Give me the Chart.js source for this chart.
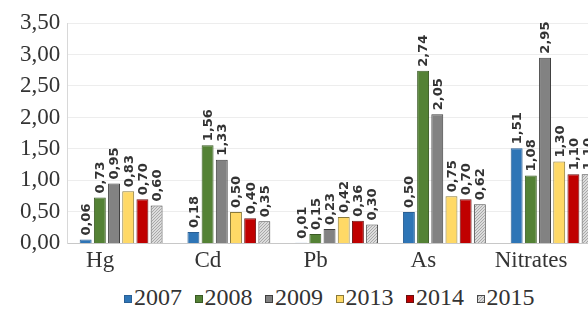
<!DOCTYPE html>
<html>
<head>
<meta charset="utf-8">
<script src="https://cdn.jsdelivr.net/npm/chart.js@4.4.1/dist/chart.umd.min.js"></script>
<style>
  html, body { margin: 0; padding: 0; background: #fff; overflow: hidden; width: 588px; height: 309px; }
  #wrap { position: absolute; left: 0; top: 0; width: 620px; height: 279px; }
  #legend { position: absolute; left: 124px; top: 285px; display: flex; align-items: center;
            font-family: "Liberation Serif", "Times New Roman", serif; font-size: 24px; line-height: 24px; color: #333; white-space: nowrap; }
  #legend .item { display: flex; align-items: center; margin-right: 12.5px; }
  #legend .box { width: 6px; height: 6px; border: 1px solid; margin-right: 2px; margin-top: 3px; }
</style>
</head>
<body>
<div id="wrap"><canvas id="chart"></canvas></div>
<div id="legend"></div>
<script>
/* ── data ── */
const CATEGORIES = ['Hg', 'Cd', 'Pb', 'As', 'Nitrates'];
const YEARS = ['2007', '2008', '2009', '2013', '2014', '2015'];
const V2007 = [0.06, 0.18, 0.01, 0.50, 1.51];
const V2008 = [0.73, 1.56, 0.15, 2.74, 1.08];
const V2009 = [0.95, 1.33, 0.23, 2.05, 2.95];
const V2013 = [0.83, 0.50, 0.42, 0.75, 1.30];
const V2014 = [0.70, 0.40, 0.36, 0.70, 1.10];
const V2015 = [0.60, 0.35, 0.30, 0.62, 1.10];
const SERIES = [V2007, V2008, V2009, V2013, V2014, V2015];

/* ── styling ── */
const FILLS   = ['#2e75b6', '#548235', '#828282', '#ffd966', '#c00000', null];
const BORDERS = ['#2a5f94', '#3a5a24', '#3f3f3f', '#8a7a3a', '#6a1010', '#4a4a4a'];

// dotted light-grey hatch for 2015
const pc = document.createElement('canvas');
pc.width = 3; pc.height = 3;
const pctx = pc.getContext('2d');
pctx.fillStyle = '#dcdcdc'; pctx.fillRect(0, 0, 3, 3);
pctx.fillStyle = '#a8a8a8'; pctx.fillRect(0, 0, 1, 1); pctx.fillRect(2, 1, 1, 1); pctx.fillRect(1, 2, 1, 1);
const hatch = pctx.createPattern(pc, 'repeat');

const fmt = v => v.toFixed(2).replace('.', ',');

/* ── value labels, rotated ── */
const valueLabels = {
  id: 'valueLabels',
  afterDatasetsDraw(chart) {
    const { ctx } = chart;
    ctx.save();
    ctx.font = 'bold 13px "DejaVu Sans", sans-serif';
    ctx.fillStyle = '#333';
    ctx.textAlign = 'left';
    ctx.textBaseline = 'middle';
    chart.data.datasets.forEach((ds, i) => {
      chart.getDatasetMeta(i).data.forEach((bar, j) => {
        ctx.save();
        ctx.translate(bar.x + 1, bar.y - 4);
        ctx.rotate(-Math.PI / 2);
        ctx.fillText(fmt(ds.data[j]), 0, 0);
        ctx.restore();
      });
    });
    ctx.restore();
  },
};

const datasets = YEARS.map((y, i) => ({
  label: y,
  data: SERIES[i],
  backgroundColor: FILLS[i] || hatch,
  borderColor: BORDERS[i],
  borderWidth: 1,
  categoryPercentage: 0.79,
  barPercentage: 0.84,
}));

new Chart(document.getElementById('chart'), {
  type: 'bar',
  data: { labels: CATEGORIES, datasets },
  plugins: [valueLabels],
  options: {
    animation: false,
    responsive: true,
    maintainAspectRatio: false,
    layout: { padding: { top: 23, left: 13, right: 14, bottom: 0 } },
    plugins: { legend: { display: false }, tooltip: { enabled: false } },
    scales: {
      x: {
        grid: { display: false, drawTicks: false },
        border: { color: '#c8c8c8' },
        ticks: {
          color: '#333', padding: 4, labelOffset: -21,
          font: { family: '"Liberation Serif", serif', size: 23 },
        },
      },
      y: {
        min: 0, max: 3.5,
        grid: { color: '#ededed', drawTicks: false },
        border: { color: '#d8d8d8' },
        ticks: {
          stepSize: 0.5, color: '#333', padding: 7,
          font: { family: '"Liberation Serif", serif', size: 23 },
          callback: v => fmt(v),
        },
      },
    },
  },
});

/* ── html legend ── */
const leg = document.getElementById('legend');
YEARS.forEach((y, i) => {
  const item = document.createElement('div');
  item.className = 'item';
  const box = document.createElement('span');
  box.className = 'box';
  box.style.borderColor = BORDERS[i];
  if (FILLS[i]) box.style.background = FILLS[i];
  else box.style.background = `url(${pc.toDataURL()})`;
  const txt = document.createElement('span');
  txt.textContent = y;
  item.appendChild(box); item.appendChild(txt);
  leg.appendChild(item);
});
</script>
</body>
</html>
